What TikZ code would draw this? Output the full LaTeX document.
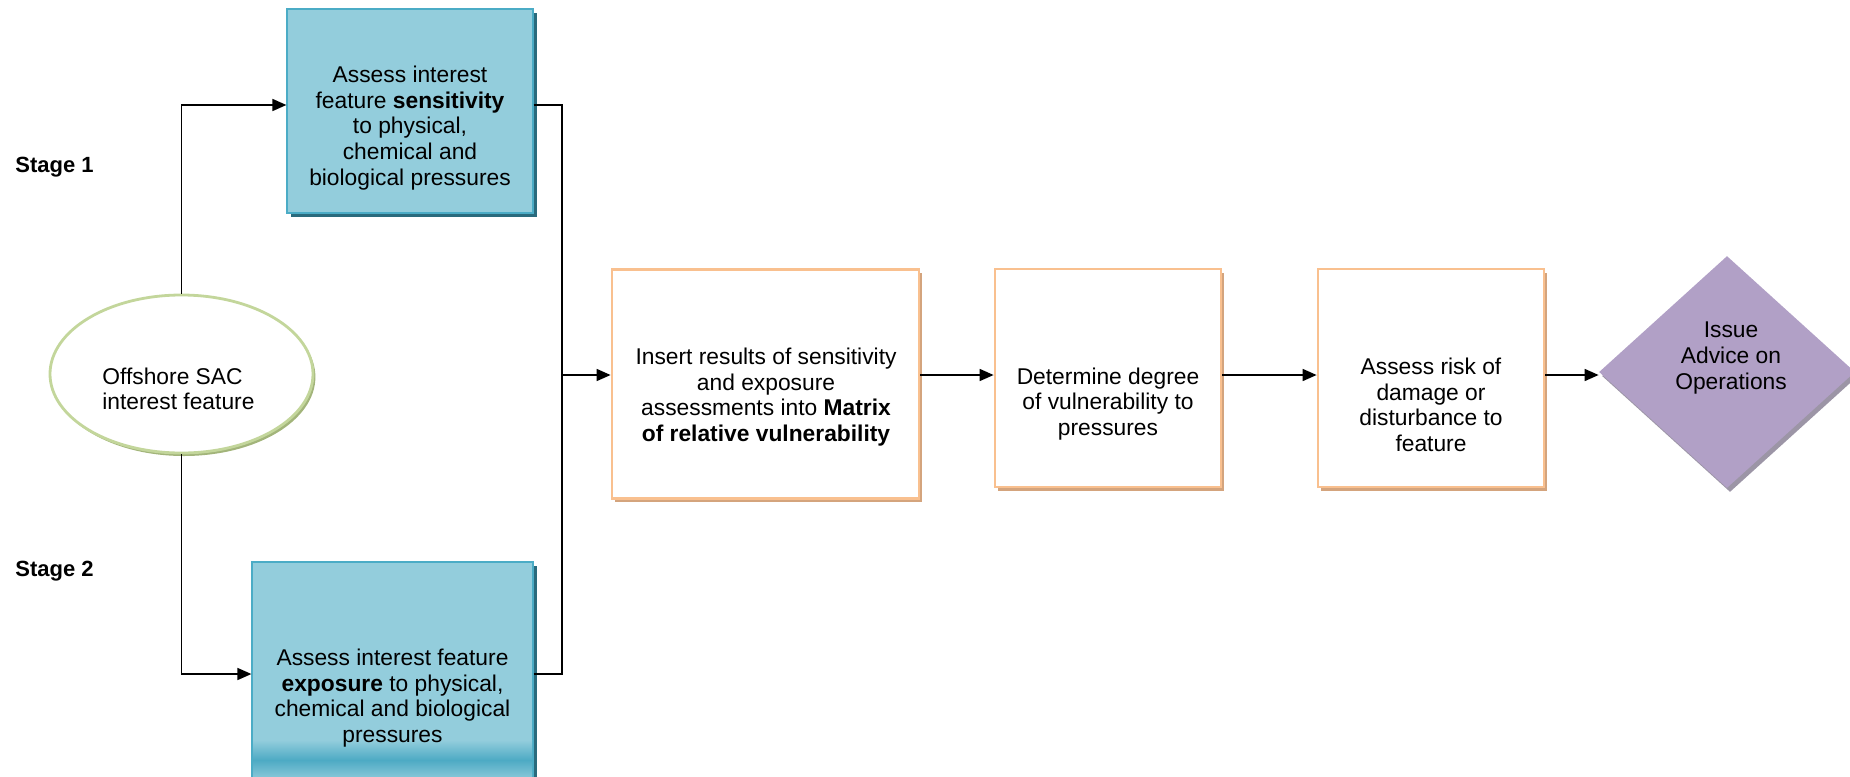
\documentclass[tikz,border=0pt]{standalone}
\usepackage{fontspec}
\setmainfont{Liberation Sans}
\usetikzlibrary{shapes.geometric,shadows,arrows.meta}
\definecolor{tealfill}{HTML}{93CDDC}
\definecolor{tealborder}{HTML}{4BACC6}
\definecolor{tealshadow}{HTML}{2A6B7D}
\definecolor{tealband}{HTML}{4DAAC4}
\definecolor{orangeborder}{HTML}{F9C08F}
\definecolor{orangeshadow}{HTML}{D4A47D}
\definecolor{greenborder}{HTML}{C3D69B}
\definecolor{greenshadow}{HTML}{A2B47A}
\definecolor{purplefill}{HTML}{B1A0C6}
\definecolor{purpleshadow}{HTML}{9C95A6}
\begin{document}
\begin{tikzpicture}[x=0.5pt,y=-0.5pt,
  font=\fontsize{11.4}{12.8}\selectfont,
  tealbox/.style={rectangle, draw=tealborder, line width=0.6pt, fill=tealfill, inner sep=0pt,
    drop shadow={shadow xshift=1.8pt, shadow yshift=-2pt, fill=tealshadow, opacity=1}},
  orangebox/.style={rectangle, draw=orangeborder, line width=1.4pt, fill=white, inner sep=0pt,
    drop shadow={shadow xshift=1.6pt, shadow yshift=-1.8pt, fill=orangeshadow, opacity=1}},
  txt/.style={align=center, inner sep=0pt},
  conn/.style={line width=0.8pt, black},
  arr/.style={conn, -{Triangle[length=7pt,width=6pt]}}
]
\useasboundingbox (0,0) rectangle (1850,776);

% shapes
\node[tealbox, minimum width=123pt, minimum height=102pt] (top) at (410,111) {};
\node[tealbox, minimum width=140.5pt, minimum height=112pt] (bot) at (392.5,674) {};
\shade[top color=tealfill, bottom color=tealband] (253,740) rectangle (532,760);
\shade[top color=tealband, bottom color=tealfill!75!tealband] (253,760) rectangle (532,776);

\node[ellipse, draw=greenborder, line width=1.4pt, fill=white, inner sep=0pt,
  minimum width=131.5pt, minimum height=79pt,
  drop shadow={shadow xshift=1.2pt, shadow yshift=-1.5pt, fill=greenshadow, opacity=1}]
  (ell) at (181.5,374) {};

\node[orangebox, minimum width=153.5pt, minimum height=114.5pt] (b1) at (765.5,384) {};
\node[orangebox, minimum width=113pt, minimum height=109pt] (b2) at (1108,378) {};
\node[orangebox, minimum width=113pt, minimum height=109pt] (b3) at (1431,378) {};

\node[diamond, fill=purplefill, inner sep=0pt, minimum width=128pt, minimum height=116pt,
  drop shadow={shadow xshift=1.5pt, shadow yshift=-2pt, fill=purpleshadow, opacity=1}]
  (dia) at (1727,372) {};

% texts
\node[txt] (ttop) at (410,128) {Assess interest\\feature \textbf{sensitivity}\\to physical,\\chemical and\\biological pressures};
\node[txt] (tbot) at (392.5,698) {Assess interest feature\\\textbf{exposure} to physical,\\chemical and biological\\pressures};
\node[txt, align=left, anchor=west] (tell) at (102,389) {Offshore SAC\\interest feature};
\node[txt] (tb1) at (766,397) {Insert results of sensitivity\\and exposure\\assessments into \textbf{Matrix}\\\textbf{of relative vulnerability}};
\node[txt] (tb2) at (1108,404) {Determine degree\\of vulnerability to\\pressures};
\node[txt] (tb3) at (1431,405) {Assess risk of\\damage or\\disturbance to\\feature};
\node[txt] (tdia) at (1731,358) {Issue\\Advice on\\Operations};
\node[inner sep=0pt, anchor=west, font=\fontsize{11}{13}\selectfont\bfseries] (s1) at (15,167) {Stage 1};
\node[inner sep=0pt, anchor=west, font=\fontsize{11}{13}\selectfont\bfseries] (s2) at (15,571) {Stage 2};

% connectors
\coordinate (j) at (562,375);
\draw[arr] (ell.north) |- ([yshift=3pt]top.west);
\draw[arr] (ell.south) |- (bot.west);
\draw[conn] ([yshift=3pt]top.east) -| (j);
\draw[conn] (bot.east) -| (j);
\draw[arr] (j) -- (j -| b1.west);
\draw[arr] (b1.east |- j) -- (b2.west |- j);
\draw[arr] (b2.east |- j) -- (b3.west |- j);
\draw[arr] (b3.east |- j) -- (dia.west |- j);
\end{tikzpicture}
\end{document}
